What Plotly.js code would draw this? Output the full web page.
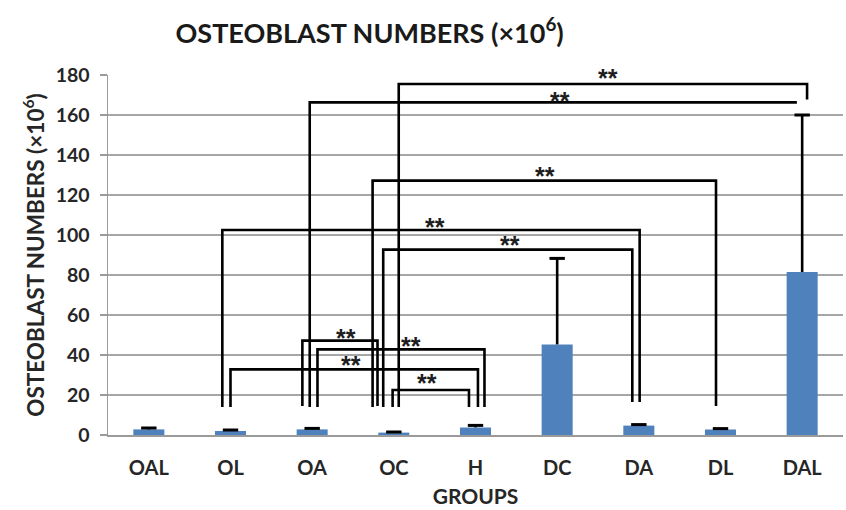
<!DOCTYPE html>
<html>
<head>
<meta charset="utf-8">
<script src="https://cdn.plot.ly/plotly-3.0.1.min.js"></script>
<style>
  html, body { margin: 0; padding: 0; background: #ffffff; }
  #chart { width: 846px; height: 510px; }
</style>
</head>
<body>
<div id="chart"></div>
<script>
// Osteoblast counts per group (x10^6) with one-sided SD error bars
const groups = ['OAL', 'OL', 'OA', 'OC', 'H', 'DC', 'DA', 'DL', 'DAL'];
const means  = [2.8, 2.0, 2.8, 1.2, 3.8, 45.3, 4.7, 2.7, 81.5];
const errors = [0.7, 0.5, 0.5, 0.3, 1.0, 43.0, 0.5, 0.5, 78.5];
const yTicks = [0, 20, 40, 60, 80, 100, 120, 140, 160, 180];

// Significance brackets (** p<0.01): endpoints as group index + offset,
// bar height, foot levels of each leg, and label position
const bracketLeft   = [3.06, 1.97, 2.74, 0.90, 2.87, 1.88, 2.065, 1.00, 2.985];
const bracketRight  = [8.06, 7.935, 6.945, 6.01, 5.92, 2.80, 4.11, 4.03, 3.92];
const bracketTop    = [175.5, 166.3, 127.2, 102.5, 92.7, 47.2, 42.8, 32.8, 22.5];
const leftFoot      = [14, 14, 14, 14, 14, 14.5, 14, 14, 14];
const rightFoot     = [167.8, 166.3, 14.5, 16.5, 16.5, 14.5, 14, 14, 14];
const starX         = [5.62, 5.03, 4.85, 3.50, 4.42, 2.41, 3.21, 2.47, 3.41];
const starY         = [181, 169.5, 132, 106.5, 97.5, 51.2, 47, 37.5, 28.3];
const starText      = '**';

const FONT = 'Lato, "Open Sans", Arial, sans-serif';
const Y_MAX = 180;
const PX_PER_UNIT = 360 / Y_MAX;   // plot height / y range
const STAR_DROP = 5;               // asterisks sit high in their text box

const shapes = bracketLeft.map((x0, i) => ({
  type: 'path',
  xref: 'x', yref: 'y',
  path: 'M ' + x0 + ',' + leftFoot[i] +
        ' L ' + x0 + ',' + bracketTop[i] +
        ' L ' + bracketRight[i] + ',' + bracketTop[i] +
        ' L ' + bracketRight[i] + ',' + rightFoot[i],
  line: { color: '#000000', width: 2.6 },
  layer: 'above'
}));

// labels above the axis top are anchored just inside the range and shifted up
const annotations = starX.map((x, i) => {
  const yIn = Math.min(starY[i], Y_MAX - 1);
  return {
    x: x, y: yIn, xref: 'x', yref: 'y',
    text: starText, showarrow: false,
    font: { family: 'Liberation Sans, Arial, sans-serif', size: 25,
            color: '#1e1e1e', weight: 'bold' },
    xanchor: 'center', yanchor: 'middle',
    yshift: (starY[i] - yIn) * PX_PER_UNIT - STAR_DROP
  };
});

const xIdx = groups.map((g, i) => i);

const bars = {
  type: 'bar',
  x: xIdx,
  y: means,
  width: 0.38,
  marker: { color: '#4f81bd', line: { width: 0 } },
  error_y: {
    type: 'data', symmetric: false,
    array: errors, arrayminus: errors.map(() => 0),
    color: '#000000', thickness: 2.6, width: 0
  },
  hoverinfo: 'skip'
};

// caps on the upper end of each error bar
const caps = {
  type: 'scatter', mode: 'markers',
  x: xIdx,
  y: means.map((m, i) => m + errors[i]),
  marker: { symbol: 'line-ew', size: 11, color: '#000000',
            line: { color: '#000000', width: 3 } },
  hoverinfo: 'skip', cliponaxis: false
};

const layout = {
  width: 846, height: 510,
  margin: { l: 108, r: 3, t: 75, b: 75 },
  paper_bgcolor: '#ffffff', plot_bgcolor: '#ffffff',
  showlegend: false,
  font: { family: FONT, color: '#262626' },
  title: {
    text: 'OSTEOBLAST NUMBERS (×10<sup>6</sup>)',
    font: { family: FONT, size: 27, color: '#1a1a1a', weight: 'bold' },
    xref: 'paper', x: 0.356, xanchor: 'center',
    yref: 'container', y: 0.935, yanchor: 'middle'
  },
  xaxis: {
    range: [-0.5, 8.5],
    tickvals: xIdx,
    ticktext: groups,
    tickfont: { family: FONT, size: 20, color: '#262626', weight: 'bold' },
    ticks: '', ticklabelstandoff: 14,
    showgrid: false, zeroline: false,
    showline: true, linecolor: '#9a9a9a', linewidth: 1.5,
    title: { text: 'GROUPS', standoff: 12,
      font: { family: FONT, size: 21, color: '#262626', weight: 'bold' } },
    fixedrange: true
  },
  yaxis: {
    range: [0, Y_MAX],
    tickvals: yTicks,
    tickfont: { family: FONT, size: 19.5, color: '#262626', weight: 'bold' },
    ticks: 'outside', ticklen: 7, tickcolor: '#9a9a9a', tickwidth: 1.2,
    ticklabelstandoff: 6,
    showgrid: true, gridcolor: '#a6a6a6', gridwidth: 1.2,
    zeroline: false,
    showline: true, linecolor: '#9a9a9a', linewidth: 1.5,
    title: { text: 'OSTEOBLAST NUMBERS (×10<sup>6</sup>)', standoff: 5,
      font: { family: FONT, size: 22.5, color: '#262626', weight: 'bold' } },
    fixedrange: true
  },
  shapes: shapes,
  annotations: annotations
};

Plotly.newPlot('chart', [bars, caps], layout, { displayModeBar: false, staticPlot: true });
</script>
</body>
</html>
